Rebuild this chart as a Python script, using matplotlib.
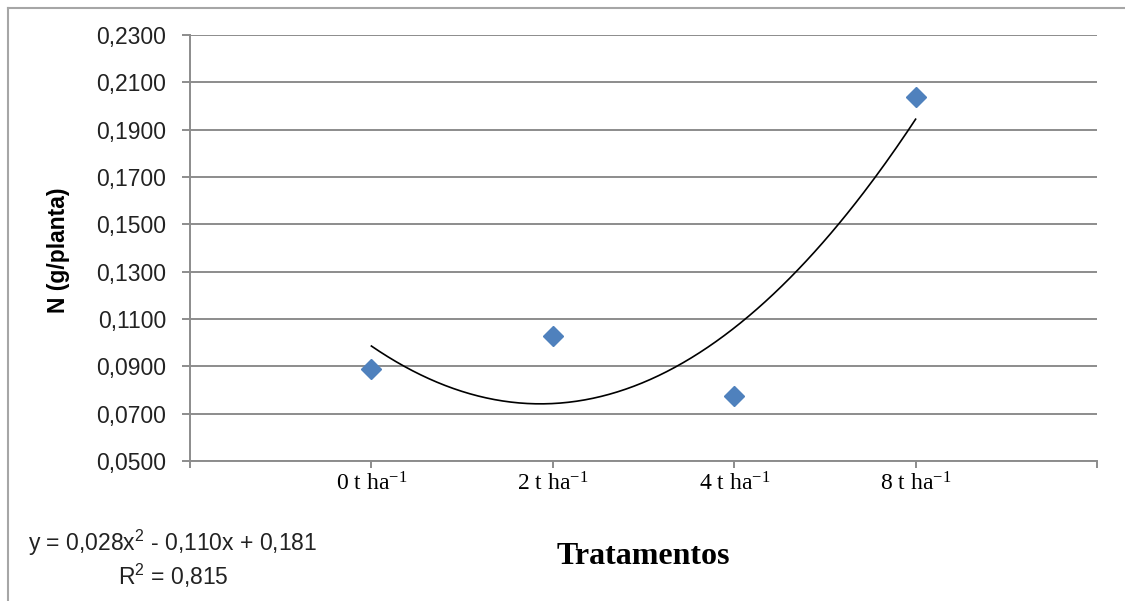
import numpy as np
import matplotlib
matplotlib.use("Agg")
import matplotlib.pyplot as plt
from matplotlib.lines import Line2D

tratamentos = ["0 t ha$^{-1}$", "2 t ha$^{-1}$", "4 t ha$^{-1}$", "8 t ha$^{-1}$"]
n_planta = [0.089, 0.103, 0.0775, 0.204]
y_ticks = [0.05, 0.07, 0.09, 0.11, 0.13, 0.15, 0.17, 0.19, 0.21, 0.23]
equacao = "y = 0,028x$^2$ - 0,110x + 0,181"
r2_texto = "R$^2$ = 0,815"

plt.rcParams["mathtext.default"] = "regular"
grid_cor = "#8c8c8c"

fig = plt.figure(figsize=(11.25, 6.01), dpi=100)
ax = fig.add_axes([190 / 1125, 1 - 461 / 601, (1097 - 190) / 1125, (461 - 35) / 601])

x = np.arange(1, len(n_planta) + 1)

# linha de tendencia polinomial (ordem 2)
coef = np.polyfit(x, n_planta, 2)
xs = np.linspace(x[0], x[-1], 200)
ax.plot(xs, np.polyval(coef, xs), color="black", lw=1.2, zorder=3)

ax.plot(x, n_planta, linestyle="none", marker="D", ms=10.5,
        color="#4F81BD", zorder=4)

ax.set_xlim(0, 5)
ax.set_ylim(0.05, 0.23)
ax.set_yticks(y_ticks)
ax.set_yticklabels([f"{v:.4f}".replace(".", ",") for v in y_ticks],
                   family="Liberation Sans", fontsize=16.5, color="#222222")
ax.set_xticks(range(0, 6))
ax.set_xticklabels([""] + tratamentos + [""], family="Liberation Serif",
                   fontsize=17, color="black")

ax.grid(axis="y", color=grid_cor, lw=1.4)
ax.set_axisbelow(True)
for s in ["top", "right"]:
    ax.spines[s].set_visible(False)
for s in ["left", "bottom"]:
    ax.spines[s].set_color(grid_cor)
    ax.spines[s].set_linewidth(1.4)
ax.tick_params(axis="y", length=6, width=1.4, color=grid_cor, pad=11)
ax.tick_params(axis="x", length=5, width=1.4, color=grid_cor, pad=3)

fig.text(59 / 1125, 1 - 250 / 601, "N (g/planta)", rotation=90,
         ha="center", va="center", family="Liberation Sans",
         fontweight="bold", fontsize=16.5)
fig.text(643 / 1125, 1 - 557 / 601, "Tratamentos", ha="center", va="center",
         family="Liberation Serif", fontweight="bold", fontsize=23)
fig.text(173 / 1125, 1 - 543 / 601, equacao, ha="center", va="center",
         family="Liberation Sans", fontsize=16.5, color="#222222")
fig.text(173 / 1125, 1 - 576 / 601, r2_texto, ha="center", va="center",
         family="Liberation Sans", fontsize=16.5, color="#222222")

# borda da area do grafico
fig.add_artist(Line2D([8 / 1125, 8 / 1125], [0, 1 - 8 / 601],
                      transform=fig.transFigure, color="#a6a6a6", lw=1.5))
fig.add_artist(Line2D([8 / 1125, 1], [1 - 8 / 601, 1 - 8 / 601],
                      transform=fig.transFigure, color="#a6a6a6", lw=1.5))

fig.savefig("out.png", dpi=100)
